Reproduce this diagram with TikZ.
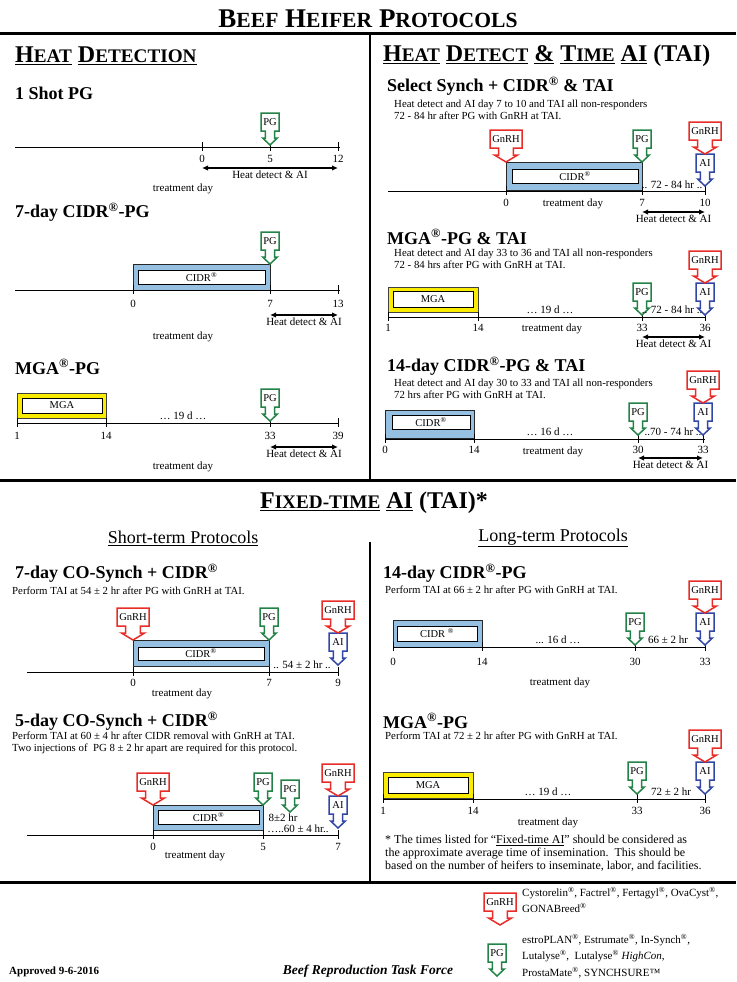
\documentclass[tikz,border=0pt]{standalone}
\usepackage{fontspec}
\setmainfont{Liberation Serif}
\usepackage{graphicx}
\usetikzlibrary{arrows.meta}

\definecolor{injred}{RGB}{232,45,40}
\definecolor{injgreen}{RGB}{35,130,70}
\definecolor{injblue}{RGB}{50,70,165}
\definecolor{cidrblue}{RGB}{150,192,225}
\definecolor{mgayellow}{RGB}{250,236,0}

% fake small caps and heading underline
\newcommand\fsc[2]{#1\scalebox{0.8}{#2}}
\newcommand\hdul[1]{\setbox0=\hbox{#1}\rlap{\rule[-2.6pt]{\wd0}{1.3pt}}\box0\relax}
\newcommand\reg{\textsuperscript{\textregistered}}

% injection marker: box with label, pointer down to the tip at (0,0)
\tikzset{pics/inj/.style n args={3}{code={
  \draw[draw=#2, line width=1.5pt, fill=white]
    (-#3,-32) -- (#3,-32) -- (#3,-14) -- ({0.4*#3+1},-14) -- ({0.4*#3+1},-7)
    -- ({0.6*#3+2},-7) -- (0,0) -- ({-0.6*#3-2},-7) -- ({-0.4*#3-1},-7)
    -- ({-0.4*#3-1},-14) -- (-#3,-14) -- cycle;
  \node[font=\fontsize{10.5}{11}\selectfont, inner sep=0pt] (-t) at (0,-23) {#1};
}}}

\begin{document}
\begin{tikzpicture}[x=1pt, y=-1pt,
    sep/.style={line width=3pt},
    tl/.style={line width=1pt},
    hd/.style={{Latex[length=6pt,width=5.5pt]}-{Latex[length=6pt,width=5.5pt]}, line width=1.3pt},
    ttl/.style={anchor=west, inner sep=0pt, font=\bfseries\fontsize{18}{20}\selectfont},
    hdg/.style={inner sep=0pt, font=\bfseries\fontsize{24}{26}\selectfont},
    desc/.style={anchor=north west, align=left, inner sep=0pt, font=\fontsize{10.8}{11.5}\selectfont},
    lab/.style={font=\fontsize{11}{12}\selectfont, inner sep=1pt},
    cidrout/.style={draw=black!85, fill=cidrblue, line width=0.8pt},
    mgaout/.style={draw=black!75, fill=mgayellow, line width=0.8pt},
    inbox/.style={draw=black, fill=white, line width=0.8pt, inner sep=0pt, font=\fontsize{10.5}{11}\selectfont},
  ]
\useasboundingbox (0,0) rectangle (736,982);

% Title and frame
\node[font=\bfseries\fontsize{27}{29}\selectfont] (title) at (368,19) {\fsc{B}{EEF} \fsc{H}{EIFER} \fsc{P}{ROTOCOLS}};
\draw[sep] (0,34) -- (736,34);
\draw[line width=2.5pt] (370,34) -- (370,480);
\draw[sep] (0,480) -- (736,480);
\draw[line width=2.5pt] (370,542) -- (370,882);
\draw[sep] (0,882) -- (736,882);

% Section headings
\node[hdg, anchor=west] (hdet) at (15,56) {\hdul{\fsc{H}{EAT}} \hdul{\fsc{D}{ETECTION}}};
\node[hdg, anchor=west] (htai) at (383,56) {\hdul{\fsc{H}{EAT}} \hdul{\fsc{D}{ETECT}} \hdul{\&} \hdul{\fsc{T}{IME}} \hdul{AI} (TAI)};
\node[hdg] (hfix) at (374,503) {\hdul{\fsc{F}{IXED-TIME}} \hdul{AI} (TAI)*};
\node[font=\fontsize{18}{20}\selectfont] (hshort) at (183,538) {\underline{Short-term Protocols}};
\node[font=\fontsize{18}{20}\selectfont] (hlong) at (553,538) {\underline{Long-term Protocols}};

% 1 Shot PG
\node[ttl] (t1) at (15,93) {1 Shot PG};
\draw[tl] (15,147) -- (340,147);
\foreach \x/\d in {202/0,270/5,338/12}{
  \draw[tl] (\x,142) -- (\x,151);
  \node[lab] (a-\d) at (\x,159) {\d};
}
\pic (a-pg) at (270,145) {inj={PG}{injgreen}{9}};
\draw[hd] (a-0 |- 0,168) -- (a-12 |- 0,168) node[lab, midway, below=1pt] (a-hd) {Heat detect \& AI};
\node[lab] (a-day) at (183,189) {treatment day};

% 7-day CIDR-PG
\node[ttl] (t2) at (15,212) {7-day CIDR\reg-PG};
\draw[cidrout] (133,264) rectangle (270,290);
\node[inbox, minimum width=127pt, minimum height=14pt] (b-cidr) at (201.5,277) {CIDR\reg};
\draw[tl] (15,290) -- (340,290);
\foreach \x/\d in {133/0,270/7,338/13}{
  \draw[tl] (\x,285) -- (\x,294);
  \node[lab] (b-\d) at (\x,304) {\d};
}
\pic (b-pg) at (270,264) {inj={PG}{injgreen}{9}};
\draw[hd] (b-7 |- 0,315) -- (b-13 |- 0,315) node[lab, midway, below=1pt] (b-hd) {Heat detect \& AI};
\node[lab] (b-day) at (183,337) {treatment day};

% MGA-PG
\node[ttl] (t3) at (15,367) {MGA\reg-PG};
\draw[mgaout] (17,393) rectangle (106,418);
\node[inbox, minimum width=80pt, minimum height=15pt] (c-mga) at (62,405.5) {MGA};
\draw[tl] (17,423) -- (338,423);
\foreach \x/\d in {17/1,106/14,270/33,338/39}{
  \draw[tl] (\x,418) -- (\x,427);
  \node[lab] (c-\d) at (\x,436) {\d};
}
\node[lab] (c-gap) at (183,416) {… 19 d …};
\pic (c-pg) at (270,421) {inj={PG}{injgreen}{9}};
\draw[hd] (c-33 |- 0,447) -- (c-39 |- 0,447) node[lab, midway, below=1pt] (c-hd) {Heat detect \& AI};
\node[lab] (c-day) at (183,467) {treatment day};

% Select Synch + CIDR & TAI
\node[ttl] (t4) at (387,86) {Select Synch + CIDR\reg{} \& TAI};
\node[desc] (d4) at (394,100) {Heat detect and AI day 7 to 10 and TAI all non-responders\\72 - 84 hr after PG with GnRH at TAI.};
\draw[cidrout] (506,162) rectangle (642,190);
\node[inbox, minimum width=126pt, minimum height=14pt] (e-cidr) at (575,176) {CIDR\reg};
\draw[tl] (388,191) -- (705,191);
\foreach \x/\d in {506/0,642/7,705/10}{
  \draw[tl] (\x,186) -- (\x,195);
  \node[lab] (e-\d) at (\x,203) {\d};
}
\pic (e-g1) at (506,162) {inj={GnRH}{injred}{16}};
\pic (e-pg) at (642,162) {inj={PG}{injgreen}{9}};
\pic (e-ai) at (705,186) {inj={AI}{injblue}{9}};
\pic (e-g2) at (705,154) {inj={GnRH}{injred}{16}};
\node[lab] (e-hr) at (672,185) {.. 72 - 84 hr ..};
\node[lab] (e-day) at (573,204) {treatment day};
\draw[hd] (e-7 |- 0,212) -- (e-10 |- 0,212) node[lab, midway, below=1pt] (e-hd) {Heat detect \& AI};

% MGA-PG & TAI
\node[ttl] (t5) at (387,237) {MGA\reg-PG \& TAI};
\node[desc] (d5) at (394,249) {Heat detect and AI day 33 to 36 and TAI all non-responders\\72 - 84 hrs after PG with GnRH at TAI.};
\draw[mgaout] (388,287) rectangle (478,312);
\node[inbox, minimum width=80pt, minimum height=16pt] (f-mga) at (433,299) {MGA};
\draw[tl] (388,317) -- (705,317);
\foreach \x/\d in {388/1,478/14,642/33,705/36}{
  \draw[tl] (\x,312) -- (\x,321);
  \node[lab] (f-\d) at (\x,328) {\d};
}
\pic (f-pg) at (642,315) {inj={PG}{injgreen}{9}};
\pic (f-ai) at (705,315) {inj={AI}{injblue}{9}};
\pic (f-g) at (705,283) {inj={GnRH}{injred}{16}};
\node[lab] (f-gap) at (550,310) {… 19 d …};
\node[lab] (f-hr) at (672,310) {.. 72 - 84 hr ..};
\node[lab] (f-day) at (552,329) {treatment day};
\draw[hd] (f-33 |- 0,337) -- (f-36 |- 0,337) node[lab, midway, below=1pt] (f-hd) {Heat detect \& AI};

% 14-day CIDR-PG & TAI
\node[ttl] (t6) at (387,366) {14-day CIDR\reg-PG \& TAI};
\node[desc] (d6) at (394,379) {Heat detect and AI day 30 to 33 and TAI all non-responders\\72 hrs after PG with GnRH at TAI.};
\draw[cidrout] (385,410) rectangle (474,438);
\node[inbox, minimum width=78pt, minimum height=14pt] (g-cidr) at (431,422) {CIDR\reg};
\draw[tl] (385,439) -- (705,439);
\foreach \x/\d in {385/0,474/14,638/30,703/33}{
  \draw[tl] (\x,434) -- (\x,443);
  \node[lab] (g-\d) at (\x,450) {\d};
}
\pic (g-pg) at (638,435) {inj={PG}{injgreen}{9}};
\pic (g-ai) at (703,435) {inj={AI}{injblue}{9}};
\pic (g-g) at (703,403) {inj={GnRH}{injred}{16}};
\node[lab] (g-gap) at (550,432) {… 16 d …};
\node[lab] (g-hr) at (673,432) {..70 - 74 hr ..};
\node[lab] (g-day) at (553,452) {treatment day};
\draw[hd] (g-30 |- 0,458) -- (g-33 |- 0,458) node[lab, midway, below=1pt] (g-hd) {Heat detect \& AI};

% 7-day CO-Synch + CIDR
\node[ttl] (t7) at (15,573) {7-day CO-Synch + CIDR\reg};
\node[desc] (d7) at (12,587) {Perform TAI at 54 ± 2 hr after PG with GnRH at TAI.};
\draw[cidrout] (133,640) rectangle (269,666);
\node[inbox, minimum width=126pt, minimum height=13pt] (h-cidr) at (201,653.5) {CIDR\reg};
\draw[tl] (27,672) -- (338,672);
\foreach \x/\d in {133/0,269/7,338/9}{
  \draw[tl] (\x,667) -- (\x,676);
  \node[lab] (h-\d) at (\x,683) {\d};
}
\pic (h-g1) at (133,640) {inj={GnRH}{injred}{16}};
\pic (h-pg) at (269,640) {inj={PG}{injgreen}{9}};
\pic (h-ai) at (338,665) {inj={AI}{injblue}{9}};
\pic (h-g2) at (338,633) {inj={GnRH}{injred}{16}};
\node[lab] (h-hr) at (302,665) {.. 54 ± 2 hr ..};
\node[lab] (h-day) at (182,694) {treatment day};

% 5-day CO-Synch + CIDR
\node[ttl] (t8) at (15,721) {5-day CO-Synch + CIDR\reg};
\node[desc] (d8) at (12,732) {Perform TAI at 60 ± 4 hr after CIDR removal with GnRH at TAI.\\Two injections of\ \ PG 8 ± 2 hr apart are required for this protocol.};
\draw[cidrout] (153,805) rectangle (263,830);
\node[inbox, minimum width=101pt, minimum height=14pt] (k-cidr) at (208.5,817) {CIDR\reg};
\draw[tl] (27,835) -- (338,835);
\foreach \x/\d in {153/0,263/5,338/7}{
  \draw[tl] (\x,830) -- (\x,839);
  \node[lab] (k-\d) at (\x,847) {\d};
}
\pic (k-g1) at (153,805) {inj={GnRH}{injred}{16}};
\pic (k-pg1) at (263,805) {inj={PG}{injgreen}{9}};
\pic (k-pg2) at (290,812) {inj={PG}{injgreen}{9}};
\pic (k-ai) at (338,828) {inj={AI}{injblue}{9}};
\pic (k-g2) at (338,796) {inj={GnRH}{injred}{16}};
\node[lab] (k-8) at (283,818) {8±2 hr};
\node[lab] (k-hr) at (298,829) {…..60 ± 4 hr..};
\node[lab] (k-day) at (195,856) {treatment day};

% 14-day CIDR-PG (fixed time)
\node[ttl] (t9) at (383,573) {14-day CIDR\reg-PG};
\node[desc] (d9) at (385,586) {Perform TAI at 66 ± 2 hr after PG with GnRH at TAI.};
\draw[cidrout] (393,620) rectangle (482,647);
\node[inbox, minimum width=80pt, minimum height=15pt] (m-cidr) at (437,633.5) {CIDR \reg};
\draw[tl] (393,647) -- (705,647);
\foreach \x/\d in {393/0,482/14,635/30,705/33}{
  \draw[tl] (\x,642) -- (\x,651);
  \node[lab] (m-\d) at (\x,662) {\d};
}
\pic (m-pg) at (635,645) {inj={PG}{injgreen}{9}};
\pic (m-ai) at (705,645) {inj={AI}{injblue}{9}};
\pic (m-g) at (705,613) {inj={GnRH}{injred}{16}};
\node[lab] (m-gap) at (558,640) {... 16 d …};
\node[lab] (m-hr) at (668,640) {66 ± 2 hr};
\node[lab] (m-day) at (560,683) {treatment day};

% MGA-PG (fixed time)
\node[ttl] (t10) at (383,721) {MGA\reg-PG};
\node[desc] (d10) at (385,732) {Perform TAI at 72 ± 2 hr after PG with GnRH at TAI.};
\draw[mgaout] (383,772) rectangle (473,798);
\node[inbox, minimum width=80pt, minimum height=16pt] (n-mga) at (428,785) {MGA};
\draw[tl] (383,799) -- (705,799);
\foreach \x/\d in {383/1,473/14,637/33,705/36}{
  \draw[tl] (\x,794) -- (\x,803);
  \node[lab] (n-\d) at (\x,811) {\d};
}
\pic (n-pg) at (637,794) {inj={PG}{injgreen}{9}};
\pic (n-ai) at (705,794) {inj={AI}{injblue}{9}};
\pic (n-g) at (705,762) {inj={GnRH}{injred}{16}};
\node[lab] (n-gap) at (548,792) {… 19 d …};
\node[lab] (n-hr) at (671,792) {72 ± 2 hr};
\node[lab] (n-day) at (548,823) {treatment day};
\node[desc, font=\fontsize{12}{13}\selectfont] (note) at (385,835) {* The times listed for “\underline{Fixed-time AI}” should be considered as\\the approximate average time of insemination.\ \ This should be\\based on the number of heifers to inseminate, labor, and facilities.};

% Legend and footer
\pic (l-g) at (500,925) {inj={GnRH}{injred}{16}};
\node[desc, font=\fontsize{11}{16}\selectfont] (l-gt) at (522,887) {Cystorelin\reg, Factrel\reg, Fertagyl\reg, OvaCyst\reg,\\GONABreed\reg};
\pic (l-pg) at (497,976) {inj={PG}{injgreen}{9}};
\node[desc, font=\fontsize{11}{16.5}\selectfont] (l-pt) at (522,934) {estroPLAN\reg, Estrumate\reg, In-Synch\reg,\\Lutalyse\reg,\ \ Lutalyse\reg{} \textit{HighCon},\\ProstaMate\reg, SYNCHSURE™};
\node[anchor=west, inner sep=0pt, font=\bfseries\fontsize{11}{12}\selectfont] (appr) at (9,972) {Approved 9-6-2016};
\node[font=\bfseries\itshape\fontsize{13.5}{14}\selectfont] (brtf) at (368,971) {Beef Reproduction Task Force};
\end{tikzpicture}
\end{document}
